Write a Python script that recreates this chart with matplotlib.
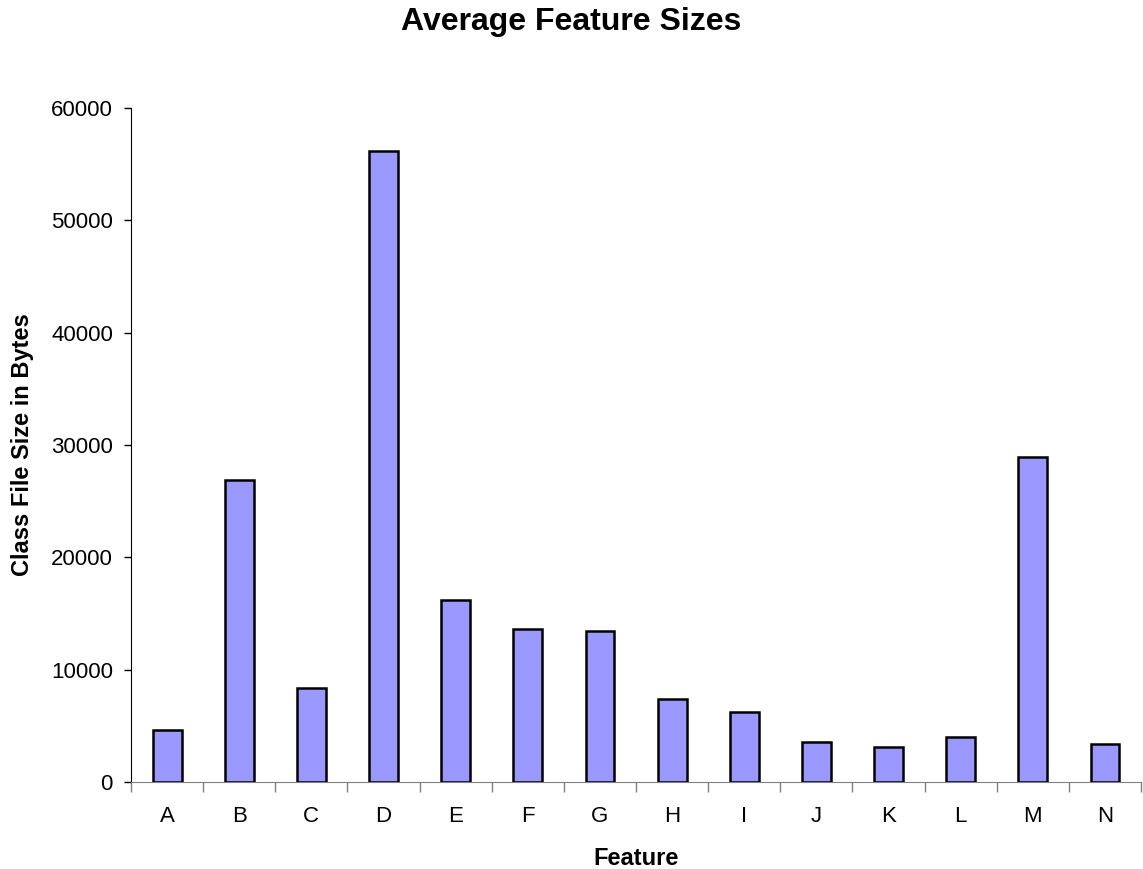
import numpy as np
import matplotlib
matplotlib.use("Agg")
import matplotlib.pyplot as plt

# data
features = ["A", "B", "C", "D", "E", "F", "G", "H", "I", "J", "K", "L", "M", "N"]
sizes = [4600, 26900, 8400, 56200, 16200, 13600, 13450, 7400, 6200, 3550, 3100, 4050, 28900, 3350]

plt.rcParams['font.family'] = ['Liberation Sans', 'DejaVu Sans']

fig = plt.figure(figsize=(11.43, 8.69), dpi=100)
ax = fig.add_axes([131/1143, 87/869, 1010/1143, 674/869])

x = np.arange(len(features))
ax.bar(x, sizes, width=0.4, color='#9999ff', edgecolor='black', linewidth=1.8, zorder=3)

ax.set_xlim(-0.5, len(features) - 0.5)
ax.set_ylim(0, 60000)
ax.set_yticks(np.arange(0, 60001, 10000))

# category boundaries get tick marks, centres get the labels
ax.set_xticks(np.arange(len(features) + 1) - 0.5)
ax.set_xticklabels([])
ax.set_xticks(x, minor=True)
ax.set_xticklabels(features, minor=True, fontsize=16)
ax.tick_params(axis='x', which='major', length=7, width=1, color='#808080', direction='out')
ax.tick_params(axis='x', which='minor', length=0, pad=17)
ax.tick_params(axis='y', length=5, width=1, labelsize=16, pad=8)

ax.spines['top'].set_visible(False)
ax.spines['right'].set_visible(False)
ax.spines['bottom'].set_color('#808080')
ax.spines['left'].set_color('black')

ax.set_xlabel('Feature', fontsize=17, fontweight='bold', labelpad=15)
ax.set_ylabel('Class File Size in Bytes', fontsize=17, fontweight='bold', labelpad=12)
fig.suptitle('Average Feature Sizes', fontsize=23, fontweight='bold', y=0.992)

fig.savefig('out.png', dpi=100)
